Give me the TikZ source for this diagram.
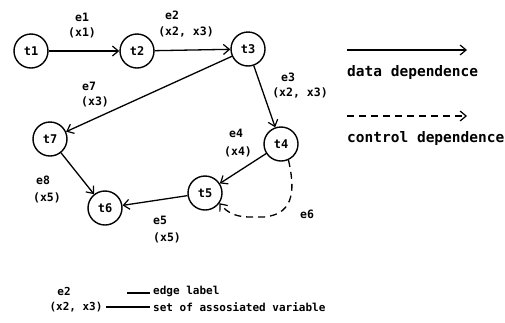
\documentclass[tikz,border=0pt]{standalone}
\usepackage{fontspec}
\setmainfont{DejaVu Sans Mono}
\usetikzlibrary{arrows.meta}
\begin{document}
\begin{tikzpicture}[x=1pt,y=-1pt,
  task/.style={draw,circle,line width=1.4pt,minimum size=34pt,inner sep=0pt,font=\fontsize{12}{12}\selectfont\bfseries},
  lbl/.style={font=\fontsize{11.5}{11.5}\selectfont\bfseries,inner sep=0pt},
  leg/.style={font=\fontsize{14.5}{14.5}\selectfont\bfseries,inner sep=0pt,anchor=west},
  legb/.style={font=\fontsize{11}{11}\selectfont\bfseries,inner sep=0pt},
  dep/.style={line width=1.3pt,-{Straight Barb[length=6pt,width=10pt,line width=1.2pt]}},
  ctl/.style={dep,dashed,dash pattern=on 7pt off 5pt}]
\useasboundingbox (0,0) rectangle (505,322);
\node[task] (t1) at (31,51) {t1};
\node[task] (t2) at (137,51) {t2};
\node[task] (t3) at (248,49) {t3};
\node[task] (t7) at (50,139) {t7};
\node[task] (t4) at (281,144) {t4};
\node[task] (t5) at (205,193) {t5};
\node[task] (t6) at (105,208) {t6};
\draw[dep] (t1) -- (t2);
\draw[dep] (t2) -- (t3);
\draw[dep] (t3) -- (t7);
\draw[dep] (t3) -- (t4);
\draw[dep] (t4) -- (t5);
\draw[dep] (t5) -- (t6);
\draw[dep] (t7) -- (t6);
\draw[ctl] (t4.-65) .. controls (294,185) and (297,214) .. (264,217) -- (250,217) .. controls (238,217) and (228,214) .. (t5.-35);
\node[lbl] (l1a) at (82,17) {e1};
\node[lbl] (l1b) at (82,33) {(x1)};
\node[lbl] (l2a) at (172,15) {e2};
\node[lbl] (l2b) at (186,32) {(x2, x3)};
\node[lbl] (l7a) at (89,86) {e7};
\node[lbl] (l7b) at (95,102) {(x3)};
\node[lbl] (l3a) at (288,77) {e3};
\node[lbl] (l3b) at (300,93) {(x2, x3)};
\node[lbl] (l4a) at (236,133) {e4};
\node[lbl] (l4b) at (238,152) {(x4)};
\node[lbl] (l8a) at (43,180) {e8};
\node[lbl] (l8b) at (47,198) {(x5)};
\node[lbl] (l5a) at (160,220) {e5};
\node[lbl] (l5b) at (167,238) {(x5)};
\node[lbl] (l6a) at (307,214) {e6};
% right legend
\coordinate (da) at (347,50);
\coordinate (db) at (467,50);
\draw[dep] (da) -- (db);
\node[leg] (dt) at (347,72) {data dependence};
\coordinate (ca) at (347,116);
\coordinate (cb) at (467,116);
\draw[ctl] (ca) -- (cb);
\node[leg] (ct) at (347,138) {control dependence};
% bottom legend
\node[legb] (be) at (64,291) {e2};
\node[legb] (bx) at (76,307) {(x2, x3)};
\coordinate (b1a) at (127,293);
\coordinate (b1b) at (150,293);
\coordinate (b2a) at (106,307);
\coordinate (b2b) at (150,307);
\draw[line width=1.3pt] (b1a) -- (b1b);
\draw[line width=1.3pt] (b2a) -- (b2b);
\node[legb,anchor=west] (bt1) at (153,291) {edge label};
\node[legb,anchor=west] (bt2) at (153,307) {set of assosiated variable};
\end{tikzpicture}
\end{document}
